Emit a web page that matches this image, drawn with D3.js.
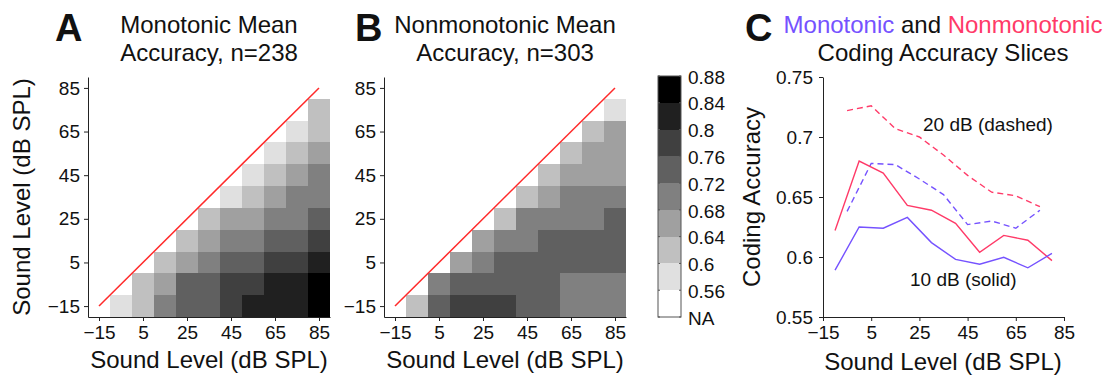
<!DOCTYPE html>
<html><head><meta charset="utf-8">
<script src="https://cdn.jsdelivr.net/npm/d3@7"></script>
<style>
body{margin:0;background:#fff;}
text{font-family:Arial,"Liberation Sans",sans-serif;fill:#111;}
</style></head><body>
<svg id="chart" width="1112" height="381"></svg>
<script>
// ---------- data ----------
const lowerLevels = [-15,-5,5,15,25,35,45,55,65,75];   // rows
const upperLevels = [-5,5,15,25,35,45,55,65,75,85];    // columns
const axisTicks = [-15,5,25,45,65,85];

// mean coding accuracy, rows = lower level, columns = upper level (null = NA)
const monoMatrix = [
  [0.589,0.638,0.70,0.74,0.74,0.78,0.82,0.82,0.82,0.86],
  [null,0.625,0.678,0.74,0.74,0.78,0.78,0.82,0.82,0.86],
  [null,null,0.624,0.677,0.70,0.74,0.74,0.78,0.78,0.82],
  [null,null,null,0.633,0.665,0.70,0.70,0.74,0.74,0.78],
  [null,null,null,null,0.612,0.652,0.66,0.70,0.70,0.74],
  [null,null,null,null,null,0.598,0.627,0.66,0.70,0.70],
  [null,null,null,null,null,null,0.594,0.630,0.66,0.70],
  [null,null,null,null,null,null,null,0.5997,0.624,0.66],
  [null,null,null,null,null,null,null,null,0.591,0.639],
  [null,null,null,null,null,null,null,null,null,0.603]
];
const nonMatrix = [
  [0.622,0.722,0.78,0.78,0.78,0.74,0.74,0.70,0.70,0.70],
  [null,0.680,0.726,0.74,0.74,0.74,0.74,0.70,0.70,0.70],
  [null,null,0.670,0.707,0.74,0.74,0.74,0.74,0.74,0.74],
  [null,null,null,0.643,0.700,0.70,0.74,0.74,0.74,0.74],
  [null,null,null,null,0.639,0.685,0.70,0.70,0.70,0.74],
  [null,null,null,null,null,0.628,0.668,0.70,0.70,0.70],
  [null,null,null,null,null,null,0.604,0.654,0.66,0.66],
  [null,null,null,null,null,null,null,0.618,0.651,0.66],
  [null,null,null,null,null,null,null,null,0.614,0.642],
  [null,null,null,null,null,null,null,null,null,0.597]
];

const colorThresholds = [0.6,0.64,0.68,0.72,0.76,0.8,0.84];
const grayLevels = ["#e0e0e0","#c0c0c0","#a0a0a0","#808080","#606060","#404040","#202020","#000000"];
const colorbarLabels = ["0.88","0.84","0.8","0.76","0.72","0.68","0.64","0.6","0.56","NA"];
const colorbarFills = ["#000000","#202020","#404040","#606060","#808080","#a0a0a0","#c0c0c0","#e0e0e0","#ffffff"];

const slice10Levels = [-10,0,10,20,30,40,50,60,70,80];
const slice20Levels = [-5,5,15,25,35,45,55,65,75];
const mono10 = [0.589,0.625,0.624,0.633,0.612,0.598,0.594,0.5997,0.591,0.603];
const non10  = [0.622,0.680,0.670,0.643,0.639,0.628,0.604,0.618,0.614,0.597];
const mono20 = [0.638,0.678,0.677,0.665,0.652,0.627,0.630,0.624,0.639];
const non20  = [0.722,0.726,0.707,0.700,0.685,0.668,0.654,0.651,0.642];
const accTicks = [0.55,0.6,0.65,0.7,0.75];

const blue = "#7552ff", red = "#ff3a68";

// ---------- drawing ----------
const svg = d3.select("#chart");
const color = d3.scaleThreshold().domain(colorThresholds).range(grayLevels);
const fmt = d => (d < 0 ? "\u2212" + Math.abs(d) : String(d));

function styleAxis(g){
  g.selectAll("text").style("font-size","19px").attr("fill","#111");
  g.selectAll("line").attr("stroke","#222");
  g.select(".domain").attr("stroke","#222");
}

function heatPanel(x0, matrix, title1, title2, showYLabel){
  const x = d3.scaleLinear().domain([-20,90]).range([x0, x0+242]);
  const y = d3.scaleLinear().domain([-20,90]).range([317, 77]);
  const g = svg.append("g");
  matrix.forEach((row, j) => {
    row.forEach((v, i) => {
      if (v === null) return;
      const u = upperLevels[i], l = lowerLevels[j];
      g.append("rect")
        .attr("x", x(u-5)).attr("y", y(l+5))
        .attr("width", x(u+5)-x(u-5)).attr("height", y(l-5)-y(l+5))
        .attr("fill", color(v)).attr("shape-rendering","crispEdges");
    });
  });
  g.append("line")
    .attr("x1", x(-15)).attr("y1", y(-15)).attr("x2", x(85)).attr("y2", y(85))
    .attr("stroke","#ff2a2a").attr("stroke-width",1.5);
  g.append("g").attr("transform","translate(0,317)")
    .call(d3.axisBottom(x).tickValues(axisTicks).tickSize(4).tickSizeOuter(0).tickPadding(5).tickFormat(fmt))
    .call(styleAxis);
  g.append("g").attr("transform",`translate(${x0},0)`)
    .call(d3.axisLeft(y).tickValues(axisTicks).tickSize(4).tickSizeOuter(0).tickPadding(4).tickFormat(fmt))
    .call(styleAxis);
  const cx = x0 + 121;
  g.append("text").attr("x", cx).attr("y", 368).attr("text-anchor","middle").style("font-size","24px").text("Sound Level (dB SPL)");
  if (showYLabel){
    g.append("text").attr("transform",`translate(30,197) rotate(-90)`).attr("text-anchor","middle").style("font-size","24px").text("Sound Level (dB SPL)");
  }
  g.append("text").attr("x", cx).attr("y", 33).attr("text-anchor","middle").style("font-size","24px").text(title1);
  g.append("text").attr("x", cx).attr("y", 61).attr("text-anchor","middle").style("font-size","24px").text(title2);
  return g;
}

heatPanel(88, monoMatrix, "Monotonic Mean", "Accuracy, n=238", true);
heatPanel(384, nonMatrix, "Nonmonotonic Mean", "Accuracy, n=303", false);

// panel letters
[["A",55],["B",355],["C",745]].forEach(([t,xx]) => {
  svg.append("text").attr("x",xx).attr("y",41).style("font-size","38px").style("font-weight","bold").attr("fill","#000").text(t);
});

// colorbar
const cb = d3.scaleBand().domain(d3.range(colorbarFills.length)).range([76,317]).paddingInner(0);
const cbG = svg.append("g");
colorbarFills.forEach((f,k) => {
  cbG.append("rect").attr("x",658).attr("y",cb(k)).attr("width",23).attr("height",cb.bandwidth())
    .attr("fill",f).attr("shape-rendering","crispEdges");
});
cbG.append("rect").attr("x",658).attr("y",76).attr("width",23).attr("height",241)
  .attr("fill","none").attr("stroke","#555").attr("stroke-width",1);
colorbarLabels.forEach((t,k) => {
  const yy = 76 + k*cb.bandwidth();
  cbG.append("line").attr("x1",679).attr("x2",681).attr("y1",yy).attr("y2",yy).attr("stroke","#555");
  cbG.append("line").attr("x1",658).attr("x2",660).attr("y1",yy).attr("y2",yy).attr("stroke","#555");
  cbG.append("text").attr("x",688).attr("y",yy+1).attr("dy","0.35em").style("font-size","19px").text(t);
});

// panel C
const xC = d3.scaleLinear().domain([-15,85]).range([823,1064]);
const yC = d3.scaleLinear().domain([0.55,0.75]).range([317,77]);
const gC = svg.append("g");
gC.append("g").attr("transform","translate(0,317)")
  .call(d3.axisBottom(xC).tickValues(axisTicks).tickSize(4).tickSizeOuter(0).tickPadding(5).tickFormat(fmt))
  .call(styleAxis);
gC.append("g").attr("transform","translate(823,0)")
  .call(d3.axisLeft(yC).tickValues(accTicks).tickSize(4).tickSizeOuter(0).tickPadding(6).tickFormat(d => String(d)))
  .call(styleAxis);
const line = d3.line().x(d => xC(d[0])).y(d => yC(d[1]));
const series = [
  [d3.zip(slice20Levels, non20), red, "6,4"],
  [d3.zip(slice20Levels, mono20), blue, "6,4"],
  [d3.zip(slice10Levels, non10), red, null],
  [d3.zip(slice10Levels, mono10), blue, null]
];
series.forEach(([pts,c,dash]) => {
  gC.append("path").attr("d", line(pts)).attr("fill","none").attr("stroke",c)
    .attr("stroke-width",1.4).attr("stroke-dasharray",dash);
});
gC.append("text").attr("x",923).attr("y",131).style("font-size","19px").text("20 dB (dashed)");
gC.append("text").attr("x",910).attr("y",286).style("font-size","19px").text("10 dB (solid)");
gC.append("text").attr("x",943).attr("y",370).attr("text-anchor","middle").style("font-size","24px").text("Sound Level (dB SPL)");
gC.append("text").attr("transform","translate(760,197) rotate(-90)").attr("text-anchor","middle").style("font-size","24px").text("Coding Accuracy");
const t1 = gC.append("text").attr("x",943).attr("y",33).attr("text-anchor","middle").style("font-size","24px");
t1.append("tspan").attr("fill",blue).text("Monotonic");
t1.append("tspan").attr("fill","#111").text(" and ");
t1.append("tspan").attr("fill",red).text("Nonmonotonic");
gC.append("text").attr("x",943).attr("y",61).attr("text-anchor","middle").style("font-size","24px").text("Coding Accuracy Slices");
</script>
</body></html>
